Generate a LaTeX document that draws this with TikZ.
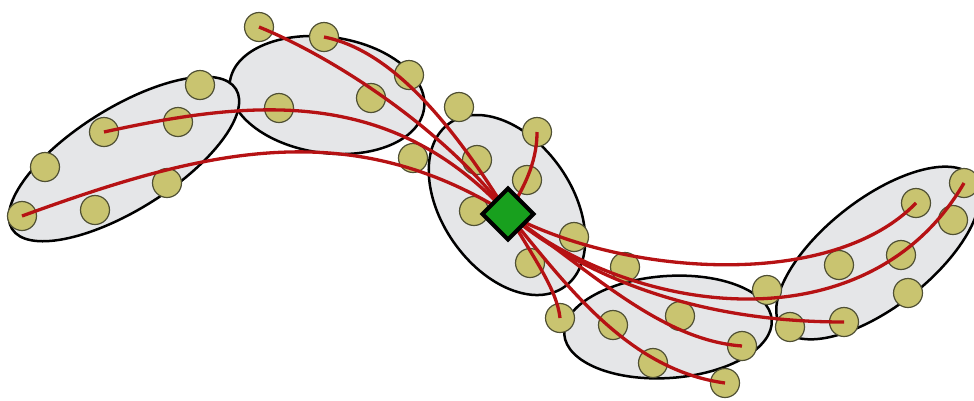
\documentclass[tikz,border=0pt]{standalone}
\usepackage{tikz}
\definecolor{blobgray}{RGB}{229,230,232}
\definecolor{beadfill}{RGB}{201,196,112}
\definecolor{beadline}{RGB}{80,80,52}
\definecolor{wirered}{RGB}{182,18,20}
\definecolor{hubgreen}{RGB}{24,160,30}

\begin{document}
\begin{tikzpicture}[x=1pt,y=-1pt,
    blob/.style={fill=blobgray,draw=black,line width=2.5pt},
    bead/.style={circle,fill=beadfill,draw=beadline,line width=1.2pt,minimum size=29pt,inner sep=0pt},
    wire/.style={wirered,line width=3.3pt}]
        \useasboundingbox (0,0) rectangle (974,400);
        \draw[blob,rotate around={-8:(327,95)}] (327,95) ellipse [x radius=98pt,y radius=58pt];
        \draw[blob,rotate around={32:(124,159)}] (124,159) ellipse [x radius=132pt,y radius=51pt];
        \draw[blob,rotate around={-55:(507,205)}] (507,205) ellipse [x radius=100pt,y radius=65pt];
        \draw[blob,rotate around={4:(668,327)}] (668,327) ellipse [x radius=104pt,y radius=51pt];
        \draw[blob,rotate around={38:(878,253)}] (878,253) ellipse [x radius=122pt,y radius=54pt];
        \node[bead] (l1) at (22,216) {};
        \node[bead] (l2) at (45,167) {};
        \node[bead] (l3) at (95,210) {};
        \node[bead] (l4) at (104,132) {};
        \node[bead] (l5) at (167,183) {};
        \node[bead] (l6) at (178,122) {};
        \node[bead] (l7) at (200,85) {};
        \node[bead] (t1) at (259,27) {};
        \node[bead] (t2) at (324,37) {};
        \node[bead] (t3) at (279,108) {};
        \node[bead] (t4) at (371,98) {};
        \node[bead] (t5) at (409,75) {};
        \node[bead] (t6) at (413,158) {};
        \node[bead] (m1) at (459,107) {};
        \node[bead] (m2) at (477,160) {};
        \node[bead] (m3) at (537,132) {};
        \node[bead] (m4) at (527,180) {};
        \node[bead] (m5) at (474,211) {};
        \node[bead] (m6) at (574,237) {};
        \node[bead] (m7) at (530,263) {};
        \node[bead] (m8) at (625,267) {};
        \node[bead] (b1) at (560,318) {};
        \node[bead] (b2) at (613,325) {};
        \node[bead] (b3) at (680,316) {};
        \node[bead] (b4) at (653,363) {};
        \node[bead] (b5) at (742,346) {};
        \node[bead] (b6) at (725,383) {};
        \node[bead] (b7) at (767,290) {};
        \node[bead] (r1) at (790,327) {};
        \node[bead] (r2) at (839,265) {};
        \node[bead] (r3) at (844,322) {};
        \node[bead] (r4) at (901,255) {};
        \node[bead] (r5) at (916,203) {};
        \node[bead] (r6) at (908,293) {};
        \node[bead] (r7) at (953,220) {};
        \node[bead] (r8) at (964,183) {};
        \coordinate (hub) at (508,214);
        \draw[wire] (l1.center) .. controls (201,151) and (347,113) .. (hub);
        \draw[wire] (l4.center) .. controls (250,100) and (390,85) .. (hub);
        \draw[wire] (t1.center) .. controls (340,60) and (450,135) .. (hub);
        \draw[wire] (t2.center) .. controls (390,50) and (450,120) .. (hub);
        \draw[wire] (m3.center) .. controls (537,165) and (522,190) .. (hub);
        \draw[wire] (hub) .. controls (620,275) and (830,292) .. (r5.center);
        \draw[wire] (hub) .. controls (640,320) and (870,345) .. (r8.center);
        \draw[wire] (hub) .. controls (600,290) and (720,322) .. (r3.center);
        \draw[wire] (hub) .. controls (590,270) and (660,340) .. (b5.center);
        \draw[wire] (hub) .. controls (570,290) and (630,370) .. (b6.center);
        \draw[wire] (hub) .. controls (535,260) and (557,290) .. (b1.center);
        \node[draw=black,line width=4pt,fill=hubgreen,rotate=45,minimum size=36pt,inner sep=0pt] (dia) at (hub) {};
    \end{tikzpicture}
\end{document}
